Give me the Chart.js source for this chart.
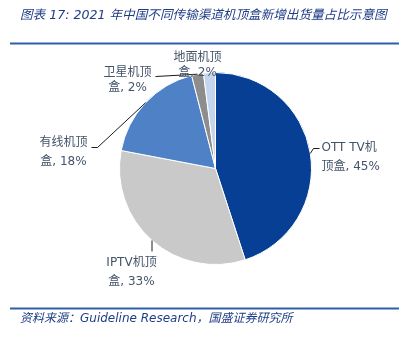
<!DOCTYPE html>
<html>
<head>
<meta charset="utf-8">
<script src="https://cdn.jsdelivr.net/npm/chart.js@4/dist/chart.umd.min.js"></script>
<style>
  html, body { margin: 0; padding: 0; background: #fff; }
  #pie { display: block; }
</style>
</head>
<body>
<canvas id="pie" width="404" height="339"></canvas>
<script>
// data
const categories = ['OTT TV机顶盒', 'IPTV机顶盒', '有线机顶盒', '卫星机顶盒', '地面机顶盒'];
const shares = [45, 33, 18, 2, 2];
// label text, split the way the picture wraps it
const labelLines = [
  ['OTT TV机', '顶盒, 45%'],
  ['IPTV机顶', '盒, 33%'],
  ['有线机顶', '盒, 18%'],
  ['卫星机顶', '盒, 2%'],
  ['地面机顶', '盒, 2%']
];

const colors = ['#073F95', '#C9C9C9', '#4F81C6', '#8D8D8D', '#C5D5ED'];
const textColor = '#44546A';
const titleColor = '#1E3C86';
const ruleColor = '#2F5DAA';
const labelFont = '12px "DejaVu Sans", "Noto Sans CJK SC", sans-serif';

// label placement, relative to the pie centre
const labelLayout = [
  { x: 106, dy: [-21, -2], align: 'left', path: [[98, -20], [104, -20]] },
  { x: -84, dy: [94, 113], align: 'center', path: [[null, 83]] },
  { x: -152, dy: [-26, -7], align: 'center', path: [[-118, -21], [-124, -21]] },
  { x: -88, dy: [-96, -81], align: 'center', path: [[-60, -92]] },
  { x: -18, dy: [-111, -96], align: 'center', path: [] }
];

const pageDecor = {
  id: 'pageDecor',
  afterDraw(chart) {
    const ctx = chart.ctx;
    ctx.save();

    // title
    ctx.fillStyle = titleColor;
    ctx.textBaseline = 'middle';
    ctx.textAlign = 'left';
    ctx.font = 'italic 12.6px "DejaVu Sans", "Noto Sans CJK SC", sans-serif';
    ctx.fillText('图表 17: 2021 年中国不同传输渠道机顶盒新增出货量占比示意图', 20, 16);

    // rules
    ctx.strokeStyle = ruleColor;
    ctx.lineWidth = 2;
    ctx.beginPath();
    ctx.moveTo(10, 43.5); ctx.lineTo(399, 43.5);
    ctx.moveTo(10, 308.5); ctx.lineTo(399, 308.5);
    ctx.stroke();

    // source
    ctx.font = 'italic 12px "DejaVu Sans", "Noto Sans CJK SC", sans-serif';
    ctx.fillText('资料来源：Guideline Research，国盛证券研究所', 20, 319);

    // slice labels and leader lines
    const arcs = chart.getDatasetMeta(0).data;
    arcs.forEach((arc, i) => {
      const { x: cx, y: cy, outerRadius, startAngle, endAngle } = arc.getProps(['x', 'y', 'outerRadius', 'startAngle', 'endAngle'], true);
      const mid = (startAngle + endAngle) / 2;
      const ex = cx + Math.cos(mid) * outerRadius;
      const ey = cy + Math.sin(mid) * outerRadius;
      const lay = labelLayout[i];

      if (lay.path.length) {
        ctx.strokeStyle = '#1a1a1a';
        ctx.lineWidth = 1;
        ctx.beginPath();
        ctx.moveTo(ex, ey);
        lay.path.forEach(([px, py]) => {
          ctx.lineTo(px === null ? ex : cx + px, cy + py);
        });
        ctx.stroke();
      }

      ctx.fillStyle = textColor;
      ctx.font = labelFont;
      ctx.textAlign = lay.align;
      labelLines[i].forEach((line, j) => {
        ctx.fillText(line, cx + lay.x, cy + lay.dy[j]);
      });
    });

    ctx.restore();
  }
};

new Chart(document.getElementById('pie'), {
  type: 'pie',
  data: {
    labels: categories,
    datasets: [{
      data: shares,
      backgroundColor: colors,
      borderColor: '#ffffff',
      borderWidth: 1
    }]
  },
  options: {
    responsive: false,
    animation: false,
    layout: {
      padding: { left: 119, right: 92, top: 72, bottom: 74 }
    },
    plugins: {
      legend: { display: false },
      tooltip: { enabled: false }
    }
  },
  plugins: [pageDecor]
});
</script>
</body>
</html>
